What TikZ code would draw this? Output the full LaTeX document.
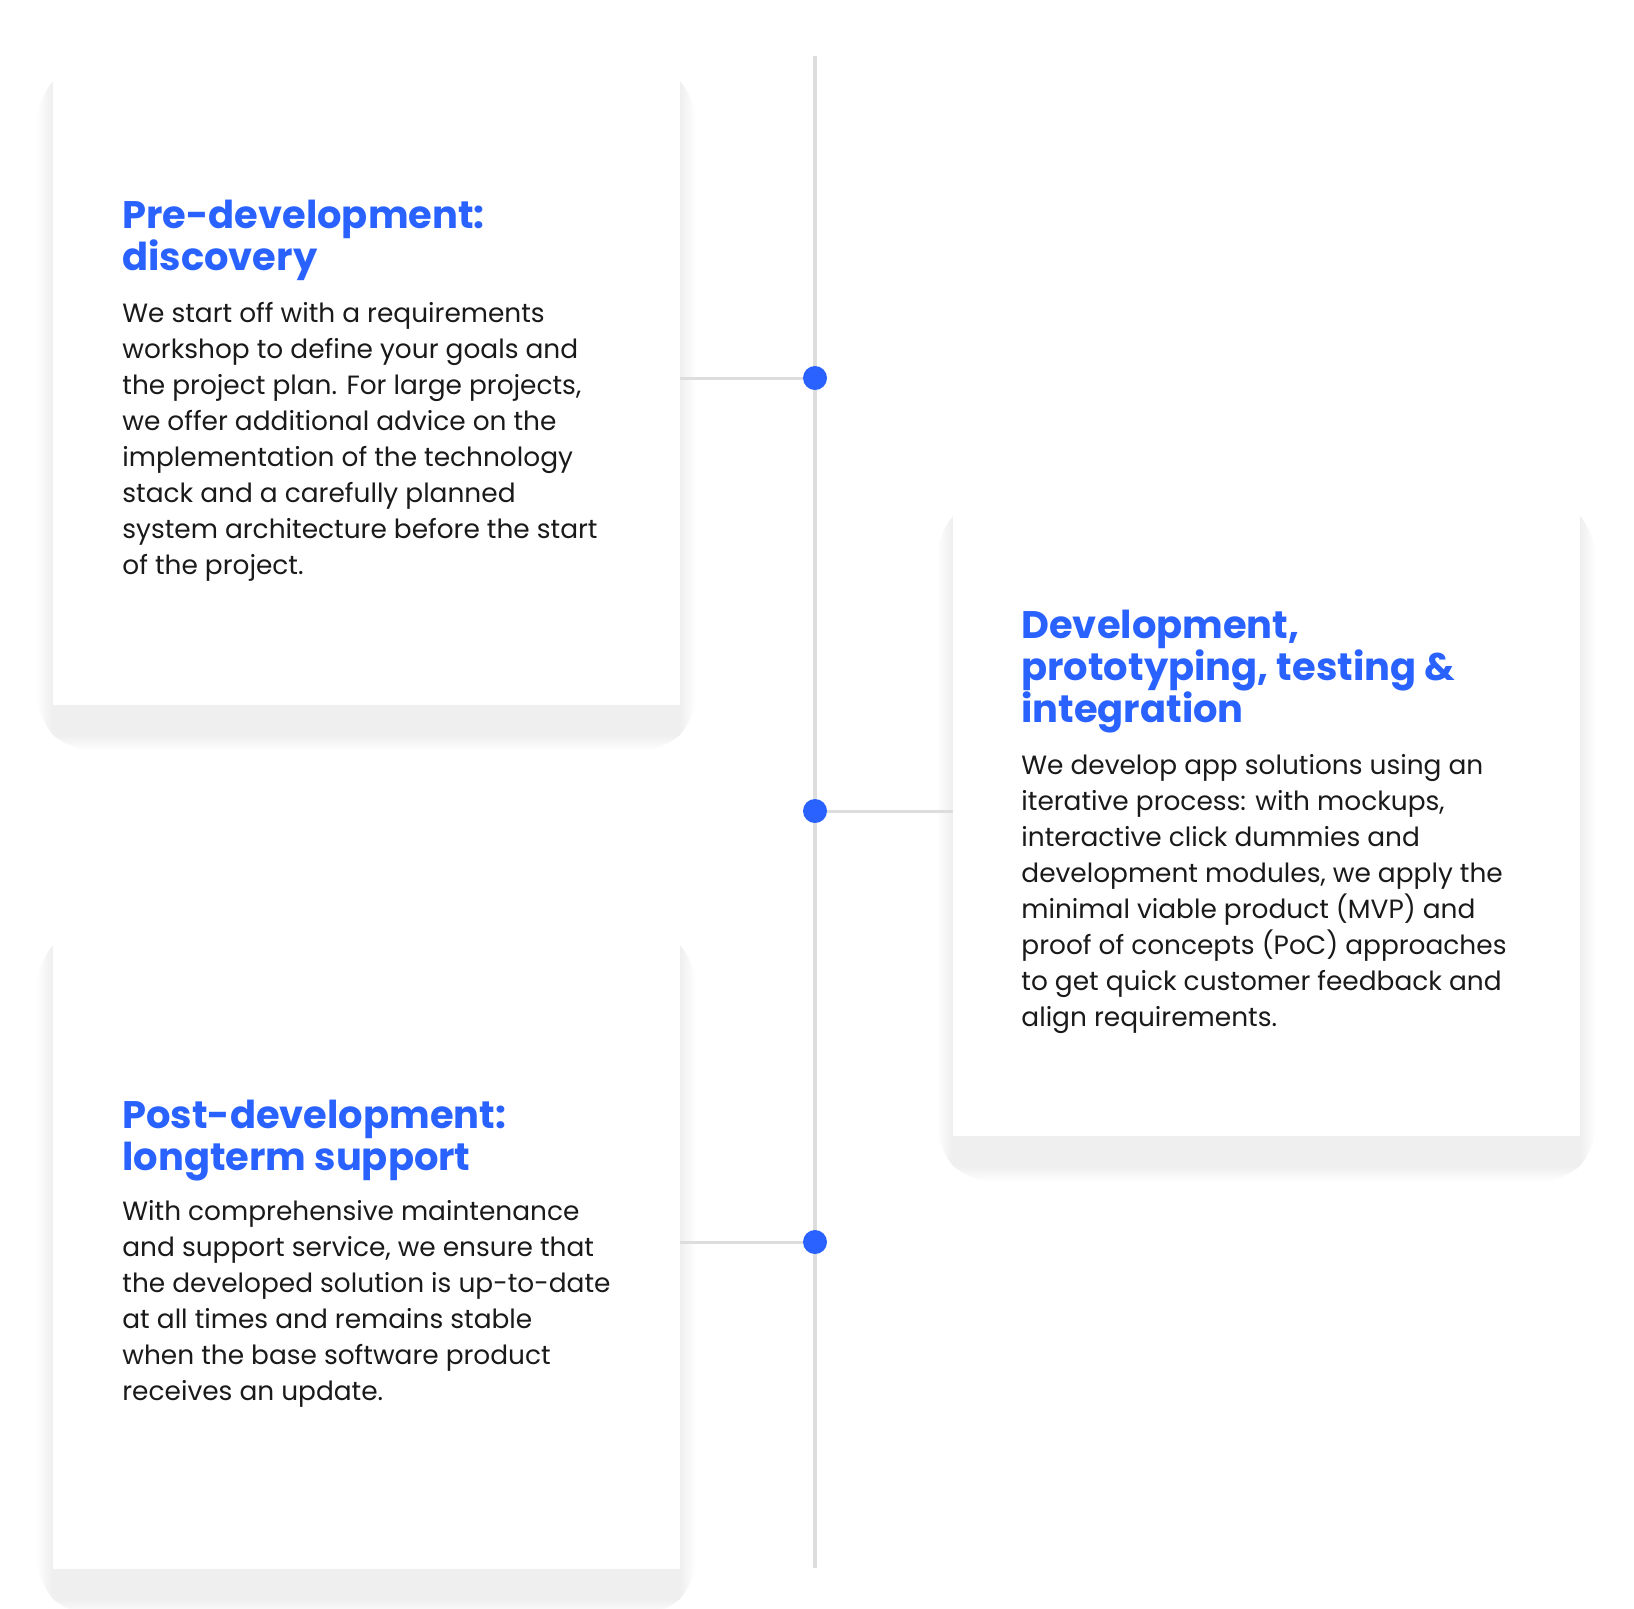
\documentclass[tikz,border=0pt]{standalone}
\usepackage{fontspec}
\setmainfont{Poppins}
\usetikzlibrary{positioning,backgrounds}
\definecolor{stepblue}{HTML}{2962FF}
\definecolor{railgray}{HTML}{DDDDDD}
\definecolor{bodyink}{HTML}{1A1A1A}
\newcommand{\stacked}[1]{\parbox[t]{320pt}{\raggedright #1}}
\begin{document}
\begin{tikzpicture}[x=0.5pt,y=-0.5pt,
  card/.style={rectangle, fill=white, minimum width=313.5pt, minimum height=327pt, inner sep=0pt},
  dot/.style={circle, fill=stepblue, minimum size=12pt, inner sep=0pt},
  heading/.style={anchor=base west, inner sep=0pt, text=stepblue, font=\bfseries\fontsize{19.2}{21.2}\selectfont},
  blurb/.style={anchor=base west, inner sep=0pt, text=bodyink, font=\fontsize{13.2}{18}\selectfont},
  rail/.style={draw=railgray, line width=2pt},
  link/.style={draw=railgray, line width=1.5pt}]

    \useasboundingbox (0,0) rectangle (1634,1608);

    % cards
    \node[card] (card1) at (366.5,378) {};
    \node[card, minimum height=325pt] (card2) at (1266.5,811) {};
    \node[card] (card3) at (366.5,1242) {};

    % soft shadows behind the cards
    \begin{scope}[on background layer]
        \foreach \k in {card1,card2,card3}
            \foreach \i [evaluate=\i as \s using \i*3.75-20, evaluate=\i as \r using \i*1.8] in {1,...,16}
                \fill[black, opacity=0.0035, rounded corners=\r pt]
                    ([shift={(-\s,\s+30)}]\k.south west) rectangle ([shift={(\s,-\s+30)}]\k.north east);
    \end{scope}

    % timeline
    \coordinate (railtop) at (815,56);
    \coordinate (railbot) at (815,1568);
    \draw[rail] (railtop) -- (railbot);

    \node[dot] (dot1) at (815,378) {};
    \node[dot] (dot2) at (815,811) {};
    \node[dot] (dot3) at (815,1242) {};

    \draw[link] (card1) -- (dot1);
    \draw[link] (dot2) -- (card2);
    \draw[link] (card3) -- (dot3);

    % texts
    \node[heading] (title1) at (122,228) {\stacked{Pre-development:\\discovery}};
    \node[blurb] (text1) at (122,322) {\stacked{We start off with a requirements\\workshop to define your goals and\\the project plan. For large projects,\\we offer additional advice on the\\implementation of the technology\\stack and a carefully planned\\system architecture before the start\\of the project.}};

    \node[heading] (title2) at (1021,638) {\stacked{Development,\\prototyping, testing \&\\integration}};
    \node[blurb] (text2) at (1021,774) {\stacked{We develop app solutions using an\\iterative process: with mockups,\\interactive click dummies and\\development modules, we apply the\\minimal viable product (MVP) and\\proof of concepts (PoC) approaches\\to get quick customer feedback and\\align requirements.}};

    \node[heading] (title3) at (122,1128) {\stacked{Post-development:\\longterm support}};
    \node[blurb] (text3) at (122,1220) {\stacked{With comprehensive maintenance\\and support service, we ensure that\\the developed solution is up-to-date\\at all times and remains stable\\when the base software product\\receives an update.}};

\end{tikzpicture}
\end{document}
